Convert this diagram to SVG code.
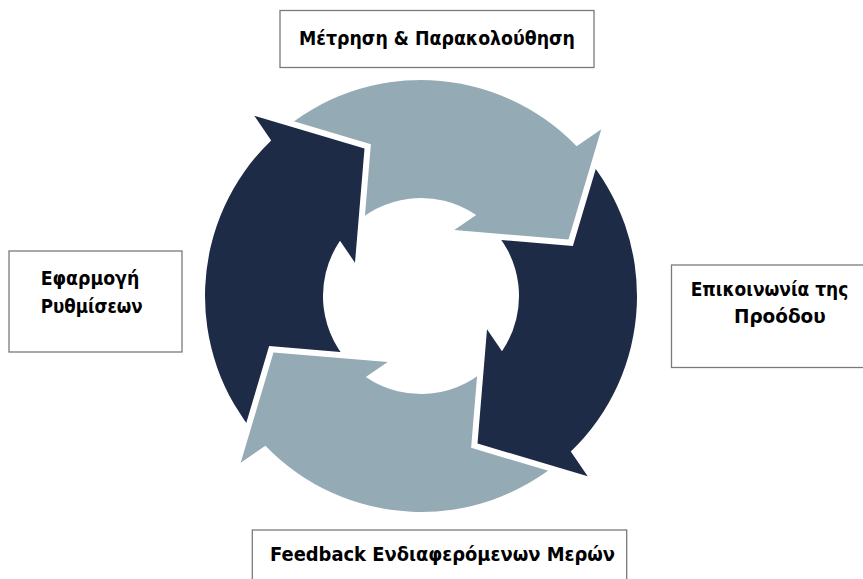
<svg xmlns="http://www.w3.org/2000/svg" width="863" height="579" viewBox="0 0 863 579">
  <style>
    .box { fill: #ffffff; stroke: #7a7a7a; stroke-width: 1.3; }
    .lbl { font-family: "DejaVu Sans", "Liberation Sans", sans-serif; font-weight: bold; font-size: 19px; fill: #000000; }
    .dark { fill: #1E2B47; }
    .light { fill: #94ABB5; }
  </style>
  <defs>
    <polygon id="head" points="254.3,115.7 364.5,148.5 355,262.7"/>
    <mask id="tailcut" maskUnits="userSpaceOnUse" x="-1000" y="-1000" width="3000" height="3000">
      <rect x="-1000" y="-1000" width="3000" height="3000" fill="#ffffff"/>
      <use href="#head" transform="rotate(-90 421 296)" fill="#000000" stroke="#000000" stroke-width="12" stroke-linejoin="miter"/>
    </mask>
    <path id="arrow" mask="url(#tailcut)" d="M257.98,437.71 A216,216 0 0 1 271.2,140.4 L254.3,115.7 L364.5,148.5 L355,262.7 L340.0,240.8 A98,98 0 0 0 355.43,368.83 Z"/>
  </defs>

  <g id="cycle-arrows">
    <g id="arrow-left"><use href="#arrow" class="dark"/></g>
    <g id="arrow-top" transform="rotate(90 421 296)"><use href="#arrow" class="light"/></g>
    <g id="arrow-right" transform="rotate(180 421 296)"><use href="#arrow" class="dark"/></g>
    <g id="arrow-bottom" transform="rotate(270 421 296)"><use href="#arrow" class="light"/></g>
  </g>

  <g id="node-top">
    <rect class="box" x="280" y="10.5" width="314" height="57"/>
    <text class="lbl" x="299" y="45" textLength="276" lengthAdjust="spacingAndGlyphs">Μέτρηση &amp; Παρακολούθηση</text>
  </g>

  <g id="node-right">
    <rect class="box" x="671.5" y="265" width="192.5" height="102.5"/>
    <text class="lbl" x="690.7" y="296" textLength="157.6" lengthAdjust="spacingAndGlyphs">Επικοινωνία της</text>
    <text class="lbl" x="734" y="323.3" textLength="91.7" lengthAdjust="spacingAndGlyphs">Προόδου</text>
  </g>

  <g id="node-bottom">
    <rect class="box" x="252.3" y="530" width="374.4" height="60"/>
    <text class="lbl" x="270" y="561" textLength="345" lengthAdjust="spacingAndGlyphs">Feedback Ενδιαφερόμενων Μερών</text>
  </g>

  <g id="node-left">
    <rect class="box" x="9" y="251" width="173" height="101"/>
    <text class="lbl" x="40.7" y="285" textLength="98.6" lengthAdjust="spacingAndGlyphs">Εφαρμογή</text>
    <text class="lbl" x="40.7" y="313.3" textLength="102" lengthAdjust="spacingAndGlyphs">Ρυθμίσεων</text>
  </g>
</svg>
